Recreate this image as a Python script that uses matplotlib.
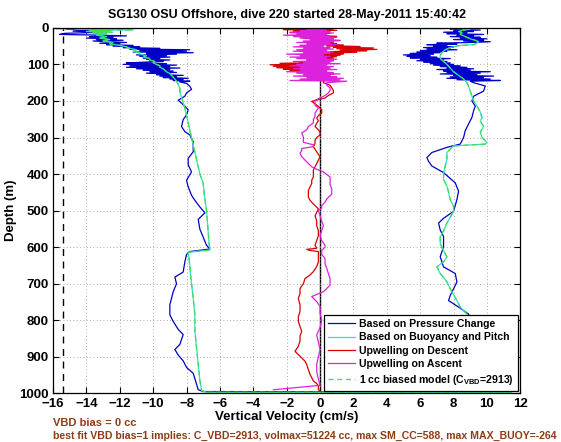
import numpy as np
import matplotlib
matplotlib.use("Agg")
import matplotlib.pyplot as plt

# (depth m, vertical velocity cm/s), descent then ascent
PRESSURE_DESCENT = [
    (0, -16.0), (2, -12.8), (4, -15.2), (6, -13.6), (9, -14.8), (12, -13.0), (15, -15.3),
    (18, -15.6), (20, -13.2), (22, -11.6), (24, -13.8), (26, -12.4), (28, -14.0), (30, -12.2),
    (32, -13.4), (34, -11.8), (36, -13.6), (38, -12.6), (40, -11.6), (42, -13.2), (44, -12.0),
    (46, -12.8), (48, -11.2), (50, -12.4), (52, -10.8), (54, -11.8), (56, -9.6), (58, -11.4),
    (60, -7.8), (62, -10.8), (64, -8.0), (66, -11.2), (68, -7.6), (70, -10.4), (72, -8.6),
    (74, -11.0), (76, -9.2), (78, -10.8), (80, -9.0), (82, -10.6), (84, -9.6), (86, -10.4),
    (88, -9.0), (90, -10.2), (92, -9.4), (94, -10.6), (96, -11.6), (98, -9.2), (100, -11.8),
    (102, -8.6), (104, -11.4), (106, -9.0), (108, -11.6), (110, -8.4), (112, -11.0),
    (114, -9.0), (116, -10.6), (118, -8.8), (120, -10.2), (122, -8.6), (124, -10.4),
    (126, -9.0), (128, -9.8), (130, -8.2), (132, -9.6), (134, -8.6), (136, -9.4), (138, -7.9),
    (140, -9.0), (142, -8.2), (144, -8.8), (146, -7.8), (148, -8.4),
    (152, -8.0), (160, -7.8), (168, -7.7), (178, -8.0), (187, -8.1), (198, -8.5), (210, -8.2),
    (224, -7.9), (238, -8.0), (251, -8.2), (270, -8.3), (284, -8.1), (293, -7.8), (311, -7.6),
    (325, -7.6), (339, -7.6), (357, -7.9), (375, -7.9), (394, -7.7), (417, -8.0), (435, -7.9),
    (458, -7.7), (472, -7.5), (490, -7.2), (506, -6.9), (524, -7.3), (551, -7.2), (573, -7.0),
    (595, -6.8), (605, -6.6), (612, -7.8), (620, -8.0), (640, -8.1), (668, -8.2), (682, -8.7),
    (700, -8.6), (722, -8.8), (758, -9.0), (785, -9.0), (803, -8.8), (825, -8.5), (839, -8.2),
    (866, -8.4), (880, -8.7), (895, -8.5), (911, -8.2), (929, -8.0), (945, -7.6), (960, -7.5),
    (975, -7.4), (990, -7.3), (995, -7.0),
]
PRESSURE_ASCENT = [
    (996, 11.0), (985, 9.6), (950, 9.4), (900, 9.2), (860, 9.0), (820, 9.1), (783, 8.9),
    (764, 8.3), (746, 7.7), (732, 7.8), (714, 8.0), (695, 8.2), (672, 8.1), (654, 7.4),
    (626, 7.2), (599, 7.4), (571, 7.4), (553, 7.2), (534, 7.1), (521, 7.4), (502, 8.0),
    (470, 8.2), (447, 8.3), (424, 8.1), (396, 7.4), (378, 6.7), (365, 6.5), (355, 6.4),
    (341, 6.7), (327, 7.6), (318, 8.4), (300, 8.6), (281, 8.7), (263, 8.9), (245, 9.1),
    (227, 9.2), (214, 9.3), (200, 9.1), (187, 9.2), (173, 9.8), (159, 9.9), (150, 9.2),
    (146, 9.0), (144, 10.8), (142, 8.2), (140, 10.2), (138, 7.6), (136, 9.8), (134, 7.8),
    (132, 10.4), (130, 8.0), (128, 9.4), (126, 7.2), (124, 9.6), (122, 7.6), (120, 10.2),
    (118, 7.4), (116, 9.0), (114, 7.0), (112, 9.2), (110, 7.6), (108, 8.8), (106, 7.2),
    (104, 8.4), (102, 6.8), (100, 8.0), (98, 6.6), (96, 7.8), (94, 6.2), (92, 7.6), (90, 5.8),
    (88, 7.4), (86, 6.0), (84, 7.8), (82, 5.4), (80, 7.0), (78, 5.2), (76, 6.6), (74, 5.0),
    (72, 6.8), (70, 5.4), (68, 7.2), (66, 5.8), (64, 7.6), (62, 6.0), (60, 8.2), (58, 6.4),
    (56, 7.8), (54, 6.2), (52, 8.0), (50, 6.8), (48, 7.6), (46, 6.4), (44, 8.2), (42, 7.0),
    (40, 9.0), (38, 10.2), (36, 8.6), (34, 9.8), (32, 8.0), (30, 10.0), (28, 8.4), (26, 9.6),
    (24, 7.8), (22, 9.2), (20, 8.2), (18, 9.8), (16, 7.6), (14, 8.8), (12, 7.4), (10, 9.2),
    (8, 8.0), (6, 9.6), (4, 7.8), (2, 8.6), (0, 8.4),
]
BUOYANCY_DESCENT = [
    (0, -16.5), (1, -13.0), (2, -15.8), (3, -12.0), (4, -14.6), (5, -11.2), (6, -13.8),
    (8, -12.6), (10, -14.0), (12, -12.4), (14, -13.6), (16, -12.8), (20, -13.4), (24, -12.8),
    (28, -13.2), (32, -12.6), (36, -13.0), (40, -12.4), (44, -12.6), (48, -12.0), (52, -11.6),
    (56, -11.4), (60, -11.0), (64, -11.2), (68, -10.8), (72, -10.8), (76, -10.4), (80, -10.6),
    (84, -10.2), (88, -10.2), (92, -9.9), (96, -10.0), (100, -9.8), (104, -9.6), (108, -9.6),
    (112, -9.4), (116, -9.3), (120, -9.2), (125, -9.0), (130, -8.9), (135, -8.8), (140, -8.7),
    (146, -8.6), (155, -8.5), (165, -8.4), (175, -8.4), (190, -8.3), (205, -8.2), (220, -8.1),
    (240, -8.0), (260, -7.9), (280, -7.8), (300, -7.7), (320, -7.6), (340, -7.5), (360, -7.4),
    (380, -7.3), (400, -7.2), (425, -7.0), (450, -6.95), (470, -6.9), (500, -6.8),
    (530, -6.75), (560, -6.7), (590, -6.65), (608, -6.6), (614, -7.9), (630, -7.85),
    (652, -7.8), (680, -7.75), (700, -7.7), (740, -7.6), (785, -7.5), (830, -7.5), (875, -7.4),
    (920, -7.3), (965, -7.2), (992, -7.1), (997, -6.8),
]
BUOYANCY_ASCENT = [
    (997, 11.5), (990, 9.8), (950, 9.6), (900, 9.5), (860, 9.3), (820, 9.2), (783, 8.8),
    (764, 8.4), (746, 8.2), (730, 8.0), (714, 7.8), (695, 7.6), (672, 7.2), (654, 7.0),
    (640, 7.4), (626, 7.6), (610, 7.4), (590, 7.2), (572, 7.2), (555, 7.4), (534, 7.6),
    (518, 7.8), (502, 8.0), (488, 8.0), (470, 7.8), (450, 7.7), (433, 7.6), (415, 7.4),
    (396, 7.4), (378, 7.5), (360, 7.6), (341, 7.6), (332, 7.8), (323, 8.0), (318, 9.9),
    (313, 10.0), (300, 9.7), (285, 9.6), (270, 9.8), (255, 9.6), (245, 9.7), (230, 9.6),
    (214, 9.4), (200, 9.2), (187, 9.1), (173, 9.0), (160, 8.9), (150, 8.8), (140, 8.6),
    (130, 8.3), (120, 8.0), (110, 7.8), (100, 7.6), (92, 7.4), (84, 7.2), (76, 7.2),
    (68, 7.3), (60, 7.5), (54, 7.8), (48, 8.4), (46, 9.2), (42, 9.4), (38, 9.5), (34, 9.3),
    (30, 9.0), (26, 8.8), (22, 8.6), (18, 8.4), (14, 8.5), (10, 8.3), (6, 8.6), (4, 9.0),
    (2, 8.8), (0, -17.0),
]
UPWELL_DESCENT = [
    (0, 4.6), (1, -2.6), (3, 0.8), (5, -2.2), (7, 1.0), (9, -1.6), (11, 0.4), (13, -1.8),
    (15, 0.6), (17, -0.8), (19, 0.4), (21, -0.6), (23, 1.0), (25, -0.4), (27, 0.6), (29, -1.0),
    (31, 0.8), (33, -0.2), (35, 1.2), (37, -0.6), (39, 0.8), (41, -0.4), (43, 1.0), (45, 0.2),
    (47, 1.4), (49, 0.4), (51, 2.4), (53, 0.8), (55, 3.2), (57, 1.0), (59, 3.4), (61, 1.2),
    (63, 2.8), (65, 0.6), (67, 2.2), (69, 0.4), (71, 1.4), (73, -0.2), (75, 1.2), (77, -0.6),
    (79, 1.0), (81, -0.4), (83, 0.8), (85, -0.8), (87, 0.6), (89, -0.6), (91, 0.4), (93, -1.2),
    (95, 0.0), (97, -2.4), (99, -0.6), (101, -3.0), (103, -0.8), (105, -2.8), (107, -0.4),
    (109, -2.6), (111, -1.0), (113, -2.2), (115, -0.2), (117, -1.8), (119, 0.2), (121, -1.0),
    (123, 0.6), (125, -0.6), (127, 0.8), (129, -0.4), (131, 0.6), (133, -0.2), (135, 0.8),
    (137, 0.0), (139, 0.6), (141, -0.2), (143, 0.4), (146, 0.2),
    (150, 0.2), (157, 0.6), (164, 0.7), (171, 0.8), (178, 0.8), (185, 0.5), (192, 0.3),
    (201, -0.5), (208, -0.3), (215, -0.1), (224, 0.1), (233, 0.1), (240, -0.1), (247, -0.2),
    (254, -0.1), (261, -0.2), (270, -0.3), (279, -0.1), (286, 0.0), (293, 0.0), (300, -0.2),
    (307, -0.3), (316, -0.3), (325, -0.4), (332, -0.3), (339, -0.2), (346, -0.1), (353, 0.0),
    (362, -0.1), (371, -0.2), (380, -0.3), (389, -0.4), (398, -0.4), (408, -0.4), (417, -0.5),
    (426, -0.5), (435, -0.6), (445, -0.7), (454, -0.7), (463, -0.7), (472, -0.6), (482, -0.4),
    (495, -0.1), (505, -0.2), (514, -0.3), (528, -0.2), (541, -0.2), (555, -0.1), (568, -0.1),
    (582, -0.2), (595, -0.3), (603, -0.2), (606, -0.8), (609, -0.6), (612, -0.1), (625, -0.1),
    (640, -0.1), (653, -0.2), (667, -0.4), (676, -0.6), (686, -0.9), (700, -1.0), (713, -1.2),
    (727, -1.2), (740, -1.3), (758, -1.2), (776, -1.2), (790, -1.3), (803, -1.3), (817, -1.2),
    (830, -1.1), (843, -1.2), (857, -1.2), (871, -1.3), (885, -1.5), (894, -1.3), (903, -1.1),
    (912, -0.9), (921, -0.8), (935, -0.7), (948, -0.6), (957, -0.5), (966, -0.4), (973, -0.2),
    (980, -0.1), (990, -0.1), (996, 0.1),
]
UPWELL_ASCENT = [
    (990, -2.8), (978, 0.0), (960, -0.1), (940, -0.2), (920, -0.2), (900, -0.1), (880, 0.0),
    (860, -0.1), (840, -0.2), (820, 0.0), (800, 0.1), (780, 0.0), (762, 0.0), (749, -0.2),
    (735, -0.5), (722, 0.2), (704, 0.6), (686, 0.6), (672, 0.5), (658, 0.4), (645, 0.3),
    (631, 0.3), (620, 0.1), (609, 0.1), (600, 0.3), (595, 0.3), (582, 0.1), (568, 0.0),
    (555, 0.1), (541, 0.2), (528, 0.1), (514, 0.0), (500, -0.1), (493, 0.1), (486, 0.1),
    (477, 0.3), (468, 0.4), (455, 0.7), (441, 0.7), (428, 0.6), (417, 0.6), (408, 0.6),
    (401, 0.4), (394, 0.2), (387, -0.2), (380, -0.5), (371, -0.7), (362, -0.9), (352, -1.1),
    (343, -1.2), (336, -1.1), (330, -1.1), (325, -0.4), (320, -0.4), (313, -1.0), (307, -1.0),
    (298, -1.0), (288, -1.1), (279, -0.8), (270, -0.7), (260, -0.4), (251, -0.4), (242, -0.3),
    (233, -0.3), (226, -0.2), (219, -0.1), (212, -0.3), (205, -0.3), (198, -0.3), (192, 0.0),
    (185, 0.3), (178, 0.5), (171, 0.6), (164, 0.6), (157, 0.4), (150, 0.4),
    (146, 1.6), (144, -1.8), (142, 1.2), (140, -1.2), (138, 1.4), (136, -0.8), (134, 1.0),
    (132, -1.6), (130, 0.6), (128, -1.0), (126, 1.2), (124, -1.4), (122, 0.8), (120, -2.0),
    (118, 0.4), (116, -1.2), (114, 1.0), (112, -1.6), (110, 0.6), (108, -1.2), (106, 0.8),
    (104, -1.8), (102, 0.4), (100, -1.4), (98, 1.2), (96, -1.0), (94, 0.6), (92, -1.6),
    (90, 0.8), (88, -0.8), (86, 1.0), (84, -1.4), (82, 0.4), (80, -1.8), (78, 0.6), (76, -1.2),
    (74, 0.2), (72, -2.0), (70, 0.6), (68, -1.0), (66, 0.8), (64, -1.6), (62, 0.4), (60, -1.4),
    (58, 0.8), (56, -1.0), (54, 0.6), (52, -1.6), (50, 0.2), (48, -1.2), (46, 1.0), (44, -0.8),
    (42, 0.6), (40, -1.4), (38, 0.8), (36, -1.0), (34, 1.2), (32, -0.6), (30, 0.8), (28, -1.2),
    (26, 1.0), (24, -1.6), (22, 0.6), (20, -2.2), (18, 0.4), (16, -1.4), (14, 0.8), (12, -1.8),
    (10, 0.6), (8, -1.2), (6, 0.4), (4, -0.8), (2, 0.2), (0, 0.0),
]
SURFACE_DRIFT_VEL = -15.4  # dashed reference line

X_TICKS = list(range(-16, 13, 2))
Y_TICKS = list(range(0, 1001, 100))

TITLE = "SG130 OSU Offshore, dive 220 started 28-May-2011 15:40:42"
NOTE_1 = "VBD bias = 0 cc"
NOTE_2 = ("best fit VBD bias=1 implies: C_VBD=2913, volmax=51224 cc, "
          "max SM_CC=588, max MAX_BUOY=-264")

BLUE = "#0000c8"
CYAN = "#33dddd"
RED = "#d80000"
MAGENTA = "#dd22dd"
GREEN = "#44dd44"
BROWN = "#8c3c14"

plt.rcParams.update({
    "font.family": "Liberation Sans",
    "font.weight": "bold",
    "mathtext.fontset": "custom",
    "mathtext.rm": "Liberation Sans:bold",
    "mathtext.bf": "Liberation Sans:bold",
    "mathtext.it": "Liberation Sans:bold",
})


def xy(points):
    arr = np.array(points, dtype=float)
    return arr[:, 1], arr[:, 0]


fig = plt.figure(figsize=(5.61, 4.42), dpi=100)
ax = fig.add_axes([0.0945, 0.110, 0.833, 0.827])

lw = 0.9
v, d = xy(PRESSURE_DESCENT + PRESSURE_ASCENT)
ax.plot(v, d, color=BLUE, lw=lw, label="Based on Pressure Change")
v, d = xy(BUOYANCY_DESCENT + BUOYANCY_ASCENT)
ax.plot(v, d, color=CYAN, lw=lw, label="Based on Buoyancy and Pitch")
v_model, d_model = v, d
v, d = xy(UPWELL_DESCENT)
ax.plot(v, d, color=RED, lw=lw, label="Upwelling on Descent")
v, d = xy(UPWELL_ASCENT)
ax.plot(v, d, color=MAGENTA, lw=lw, label="Upwelling on Ascent")
ax.plot(v_model, d_model, color=GREEN, lw=lw, ls=(0, (4, 3)),
        label=r"1 cc biased model (C$_{\mathrm{VBD}}$=2913)")

ax.axvline(0, color="black", lw=1.0, zorder=1)
ax.axvline(SURFACE_DRIFT_VEL, color="black", lw=1.0, ls=(0, (5, 4)), zorder=1)

ax.set_xlim(-16, 12)
ax.set_ylim(1000, 0)
ax.set_xticks(X_TICKS)
ax.set_yticks(Y_TICKS)
ax.tick_params(direction="in", length=4, width=0.8, top=True, right=True,
               labelsize=9.5, pad=3)
ax.grid(True, color="#909090", lw=0.6, ls=(0, (1, 3)))
for s in ax.spines.values():
    s.set_linewidth(0.9)

ax.set_title(TITLE, fontsize=9, fontweight="bold", pad=7)
ax.set_xlabel("Vertical Velocity (cm/s)", fontsize=9.5, fontweight="bold", labelpad=1)
ax.set_ylabel("Depth (m)", fontsize=9.5, fontweight="bold", labelpad=2)

leg = ax.legend(loc="lower right", fontsize=7.6, frameon=True, fancybox=False,
                edgecolor="black", framealpha=1, borderaxespad=0.25,
                handlelength=2.5, handletextpad=0.4, labelspacing=0.32,
                borderpad=0.4)
leg.get_frame().set_linewidth(0.9)
leg.set_zorder(5)

fig.text(53 / 561, 1 - 423 / 442, NOTE_1, color=BROWN, fontsize=8,
         fontweight="bold", ha="left", va="center")
fig.text(53 / 561, 1 - 436 / 442, NOTE_2, color=BROWN, fontsize=7.6,
         fontweight="bold", ha="left", va="center")

fig.savefig("out.png", dpi=100)
